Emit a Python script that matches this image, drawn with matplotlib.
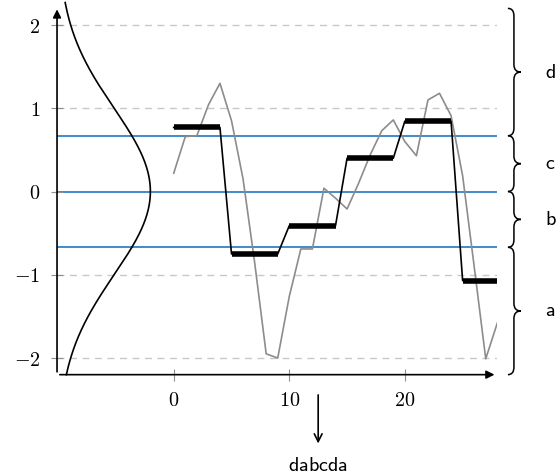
import numpy as np
import matplotlib
matplotlib.use('Agg')
import matplotlib.pyplot as plt
from matplotlib.path import Path
from matplotlib.patches import PathPatch

plt.rcParams['mathtext.fontset'] = 'cm'

# serie original (gris)
t = list(range(29))
serie = [0.22, 0.66, 0.67, 1.04, 1.30, 0.85, 0.15, -0.85, -1.95, -2.0,
         -1.26, -0.69, -0.69, 0.04, -0.08, -0.21, 0.10, 0.44, 0.73, 0.86,
         0.60, 0.43, 1.10, 1.18, 0.91, 0.19, -0.90, -2.01, -1.58]

# segmentos PAA (negro grueso)
inicio_seg = [0, 5, 10, 15, 20, 25]
valor_seg = [0.77, -0.75, -0.41, 0.40, 0.845, -1.07]
largo_seg = 4

# cortes de la normal y letras
cortes = [-0.67, 0.0, 0.67]
limites_letras = [(0.67, 2.2), (0.0, 0.67), (-0.67, 0.0), (-2.2, -0.67)]
letras = ['d', 'c', 'b', 'a']
palabra = 'dabcda'

xticks = [0, 10, 20]
yticks = [-2, -1, 0, 1, 2]

fig = plt.figure(figsize=(5.58, 4.76), dpi=100)
ax = fig.add_axes([0.1022, 0.2129, 0.789, 0.7695])
ax.set_xlim(-10.1, 28)
ax.set_ylim(-2.2, 2.2)

for s in ax.spines.values():
    s.set_visible(False)

# grilla horizontal punteada
for y in yticks:
    if y != 0:
        ax.axhline(y, color='#c8c8c8', lw=1.0, dashes=(5, 4), zorder=0)

# lineas de corte
for c in cortes:
    ax.axhline(c, color='#1f78c1', lw=1.2, zorder=1)

# campana gaussiana
yy = np.linspace(-2.2, 2.27, 300)
pdf = np.exp(-yy ** 2 / 2) / np.sqrt(2 * np.pi)
ax.plot(-10 + 20 * pdf, yy, color='black', lw=1.2, clip_on=False, zorder=2)

# serie
ax.plot(t, serie, color='#8c8c8c', lw=1.2, zorder=3)

# escalera PAA
xs, ys = [], []
for s0, v in zip(inicio_seg, valor_seg):
    xs += [s0, s0 + largo_seg]
    ys += [v, v]
xs[-1] = 29
ax.plot(xs, ys, color='black', lw=1.2, zorder=4)
for s0, v in zip(inicio_seg, valor_seg):
    fin = s0 + largo_seg if s0 != inicio_seg[-1] else 29
    ax.plot([s0, fin], [v, v], color='black', lw=4, solid_capstyle='butt', zorder=5)

# ejes con flechas
ax.annotate('', xy=(0, 1.005), xytext=(0, 0), xycoords='axes fraction',
            arrowprops=dict(arrowstyle='-|>', color='black', lw=1.2, mutation_scale=12))
ax.annotate('', xy=(1.0, 0), xytext=(0, 0), xycoords='axes fraction',
            arrowprops=dict(arrowstyle='-|>', color='black', lw=1.2, mutation_scale=12))

ax.set_xticks(xticks)
ax.set_xticklabels(['$%d$' % v for v in xticks])
ax.set_yticks(yticks)
ax.set_yticklabels(['$%d$' % v for v in yticks])
ax.tick_params(direction='inout', length=8, width=0.8, color='#909090',
               labelsize=14.5, pad=8)

# llaves
def llave(y0, y1, x0=28.92, xs=29.44, xt=30.04, r=0.09):
    ym = (y0 + y1) / 2
    verts = [(x0, y1), (xs, y1), (xs, y1 - r),
             (xs, ym + r), (xs, ym), (xt, ym),
             (xs, ym), (xs, ym - r),
             (xs, y0 + r), (xs, y0), (x0, y0)]
    codes = [Path.MOVETO, Path.CURVE3, Path.CURVE3,
             Path.LINETO, Path.CURVE3, Path.CURVE3,
             Path.CURVE3, Path.CURVE3,
             Path.LINETO, Path.CURVE3, Path.CURVE3]
    ax.add_patch(PathPatch(Path(verts, codes), fill=False, lw=1.1,
                           color='black', clip_on=False))
    return ym

for (y0, y1), letra in zip(limites_letras, letras):
    ym = llave(y0, y1)
    ax.text(32.1, ym, r'$\mathsf{%s}$' % letra, fontsize=14.5,
            ha='left', va='center', clip_on=False)

# flecha hacia la palabra
ax.annotate('', xy=(12.5, -3.06), xytext=(12.5, -2.41), xycoords='data',
            arrowprops=dict(arrowstyle='->', color='black', lw=1.2, mutation_scale=14),
            annotation_clip=False)
ax.text(12.5, -3.29, r'$\mathsf{%s}$' % palabra, fontsize=14.5,
        ha='center', va='center', clip_on=False)

plt.savefig('out.png', dpi=100)
